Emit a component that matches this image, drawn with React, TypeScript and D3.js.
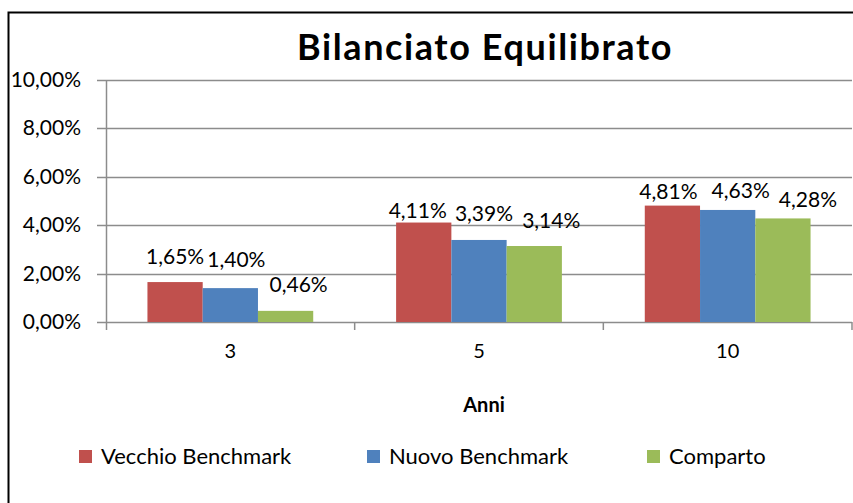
import React, { useEffect, useRef } from 'react';
import * as d3 from 'd3';

const categories = ['3', '5', '10'];
const seriesNames = ['Vecchio Benchmark', 'Nuovo Benchmark', 'Comparto'];
const vecchio = [1.65, 4.11, 4.81];
const nuovo = [1.4, 3.39, 4.63];
const comparto = [0.46, 3.14, 4.28];
const yTicks = [0, 2, 4, 6, 8, 10];
const colors = ['#C0504D', '#4F81BD', '#9BBB59'];

// hand-placed data labels in the original: [dx from bar centre, gap above bar top]
const labelNudge = [
  [[0, 18], [6, 21], [13, 19]],
  [[-6, 5], [5, 19], [17, 18]],
  [[-4, 7], [13, 12], [25, 11]],
];

const fmt = (v: number) => v.toFixed(2).replace('.', ',') + '%';

const App = () => {
  const ref = useRef<SVGSVGElement>(null);

  useEffect(() => {
    const svg = d3.select(ref.current);
    svg.selectAll('*').remove();

    const width = 853;
    const height = 503;
    const font = 'Lato, "Open Sans", sans-serif';
    const left = 106, right = 852, top = 80, bottom = 322;

    // outer frame (right and bottom edges fall outside the picture)
    svg.append('rect')
      .attr('x', 8.5).attr('y', 12.5)
      .attr('width', width + 20).attr('height', height + 20)
      .attr('fill', 'white').attr('stroke', '#000').attr('stroke-width', 2);

    svg.append('text')
      .attr('x', 485).attr('y', 60)
      .attr('text-anchor', 'middle')
      .attr('font-family', font).attr('font-weight', 'bold').attr('font-size', 36)
      .attr('letter-spacing', 1.6)
      .text('Bilanciato Equilibrato');

    const y = d3.scaleLinear().domain([0, 10]).range([bottom, top]);
    const x0 = d3.scaleBand().domain(categories).range([left, right]).paddingInner(0).paddingOuter(0);
    const groupW = x0.bandwidth() * (3 / 4.5);
    const x1 = d3.scaleBand().domain(seriesNames).range([0, groupW]);

    // gridlines
    svg.append('g').selectAll('line').data(yTicks).enter().append('line')
      .attr('x1', left - 9).attr('x2', right)
      .attr('y1', d => Math.round(y(d)) + 0.5).attr('y2', d => Math.round(y(d)) + 0.5)
      .attr('stroke', '#8c8c8c').attr('stroke-width', 1.5);

    svg.append('g').selectAll('text').data(yTicks).enter().append('text')
      .attr('x', 81).attr('y', d => y(d) + 7)
      .attr('text-anchor', 'end')
      .attr('font-family', font).attr('font-size', 21)
      .text(d => fmt(d));

    // y axis
    svg.append('line')
      .attr('x1', left + 0.5).attr('x2', left + 0.5).attr('y1', top).attr('y2', bottom + 8)
      .attr('stroke', '#8c8c8c').attr('stroke-width', 1.5);

    // category ticks
    const catEdges = categories.map(c => (x0(c) as number) + x0.bandwidth());
    svg.append('g').selectAll('line').data(catEdges).enter().append('line')
      .attr('x1', d => d).attr('x2', d => d).attr('y1', bottom).attr('y2', bottom + 8)
      .attr('stroke', '#8c8c8c').attr('stroke-width', 1.5);

    const values = [vecchio, nuovo, comparto];
    const rows = categories.map((c, ci) => ({
      cat: c,
      items: seriesNames.map((s, si) => ({ s, si, ci, v: values[si][ci] })),
    }));

    const groups = svg.append('g').selectAll('g').data(rows).enter().append('g')
      .attr('transform', d => `translate(${(x0(d.cat) as number) + (x0.bandwidth() - groupW) / 2},0)`);

    groups.selectAll('rect').data(d => d.items).enter().append('rect')
      .attr('x', d => x1(d.s) as number)
      .attr('y', d => y(d.v))
      .attr('width', x1.bandwidth())
      .attr('height', d => bottom - y(d.v))
      .attr('fill', d => colors[d.si]);

    groups.selectAll('text').data(d => d.items).enter().append('text')
      .attr('x', d => (x1(d.s) as number) + x1.bandwidth() / 2 + labelNudge[d.ci][d.si][0])
      .attr('y', d => y(d.v) - labelNudge[d.ci][d.si][1])
      .attr('text-anchor', 'middle')
      .attr('font-family', font).attr('font-size', 21)
      .text(d => fmt(d.v));

    svg.append('g').selectAll('text').data(categories).enter().append('text')
      .attr('x', d => (x0(d) as number) + x0.bandwidth() / 2)
      .attr('y', 358)
      .attr('text-anchor', 'middle')
      .attr('font-family', font).attr('font-size', 20)
      .text(d => d);

    svg.append('text')
      .attr('x', 484).attr('y', 412)
      .attr('text-anchor', 'middle')
      .attr('font-family', font).attr('font-weight', 'bold').attr('font-size', 20)
      .text('Anni');

    const legendX = [79, 367, 647];
    const legend = svg.append('g').selectAll('g').data(seriesNames).enter().append('g')
      .attr('transform', (d, i) => `translate(${legendX[i]},450)`);
    legend.append('rect')
      .attr('width', 13).attr('height', 13)
      .attr('fill', (d, i) => colors[i]);
    legend.append('text')
      .attr('x', 22).attr('y', 14)
      .attr('font-family', font).attr('font-size', 22)
      .text(d => d);
  }, []);

  return (
    <svg ref={ref} width={853} height={503}
      style={{ position: 'absolute', left: 0, top: 0, display: 'block' }} />
  );
};

export default App;
